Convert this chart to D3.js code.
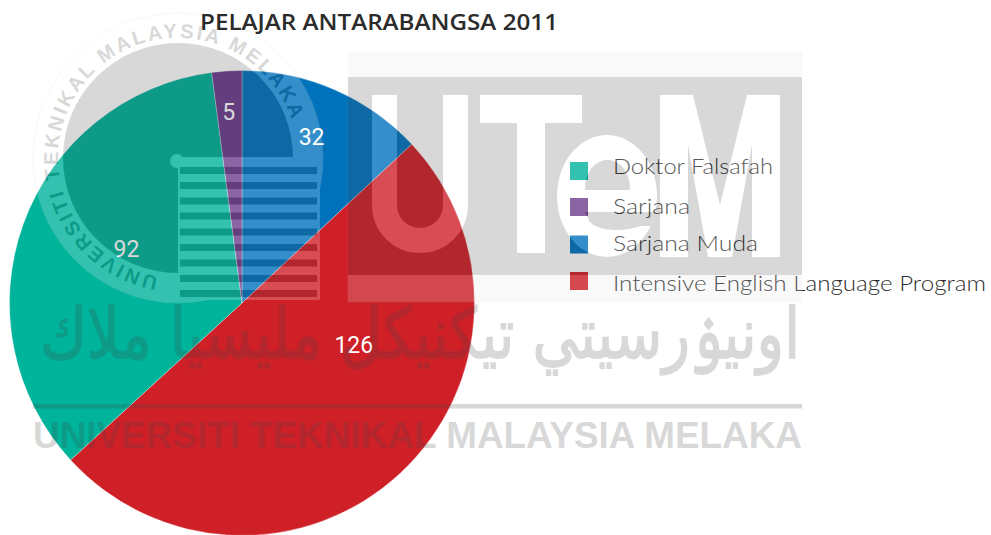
<!DOCTYPE html>
<html><head><meta charset="utf-8">
<script src="https://cdn.jsdelivr.net/npm/d3@7"></script>
<style>html,body{margin:0;padding:0;background:#fff;overflow:hidden}svg{display:block}</style>
</head><body><div id="c"></div>
<script>
const titleText = "PELAJAR ANTARABANGSA 2011";
const categories = ["Sarjana Muda","Intensive English Language Program","Doktor Falsafah","Sarjana"];
const values = [32,126,92,5];
// wedge sweeps as actually drawn in the picture, in degrees (they differ slightly from the printed values)
const sweeps = [46.9,180.6,125,7.5];
const colors = ["#0072bc","#cf2028","#00b39b","#6e3d8e"];
const legendOrder = ["Doktor Falsafah","Sarjana","Sarjana Muda","Intensive English Language Program"];
const legendWidths = [160,77,145,373];
const legendY = [162,198,235.5,272];
const legendBase = [174,214,251,291];
const labelPolar = [[22.6,181],[110,119],[295.4,128],[356,192]];
const stripeY = [167,182,197.5,212.5,228.5,244,259.5,275,290];
const sealText = "UNIVERSITI TEKNIKAL MALAYSIA MELAKA";
const footText = "UNIVERSITI TEKNIKAL MALAYSIA MELAKA";
const jawiText = "اونيۏرسيتي تيكنيكل مليسيا ملاك";

const W=991,H=535,cx=242,cy=303,R=232.5;
const svg=d3.select("#c").append("svg").attr("width",W).attr("height",H);
const color=d3.scaleOrdinal(categories,colors);

// pie
const pie=d3.pie().sort(null).value(d=>d.s);
const rows=categories.map((c,i)=>({c,v:values[i],s:sweeps[i]}));
const arc=d3.arc().innerRadius(0).outerRadius(R);
const gPie=svg.append("g").attr("transform",`translate(${cx},${cy})`);
gPie.selectAll("path").data(pie(rows)).join("path")
  .attr("d",arc).attr("fill",d=>color(d.data.c)).attr("stroke","#fff").attr("stroke-width",.3);

// value labels
const gV=svg.append("g").attr("transform",`translate(${cx},${cy})`);
values.forEach((v,i)=>{
  const [a,r]=labelPolar[i], t=a*Math.PI/180;
  gV.append("text").attr("x",r*Math.sin(t)).attr("y",-r*Math.cos(t)+9)
    .attr("text-anchor","middle").attr("font-family","Roboto").attr("font-size",23)
    .attr("fill","#fff").text(v);
});

// legend
const gL=svg.append("g");
legendOrder.forEach((name,i)=>{
  gL.append("rect").attr("x",570).attr("y",legendY[i]).attr("width",18).attr("height",18).attr("fill",color(name));
  gL.append("text").attr("x",613).attr("y",legendBase[i])
    .attr("font-family","Lato").attr("font-weight",300).attr("font-size",21.5).attr("fill","#2e2e2e")
    .attr("textLength",legendWidths[i]).attr("lengthAdjust","spacingAndGlyphs").text(name);
});

// watermark
const wm=svg.append("g").attr("opacity",.2);
const dark="#414141", light="#fff";
// seal
const sx=178,sy=158;
wm.append("circle").attr("cx",sx).attr("cy",sy).attr("r",145).attr("fill",light).attr("stroke","#ddd").attr("stroke-width",1);
wm.append("circle").attr("cx",sx).attr("cy",sy).attr("r",115).attr("fill",dark);
wm.append("rect").attr("x",178).attr("y",157).attr("width",142).attr("height",143).attr("fill",light);
wm.append("circle").attr("cx",177).attr("cy",161).attr("r",7).attr("fill",light);
wm.selectAll("rect.st").data(stripeY).join("rect").attr("class","st")
  .attr("x",180).attr("y",d=>d).attr("width",137).attr("height",7).attr("fill",dark);
const rad=d=>(d-90)*Math.PI/180;
const ring=d3.path(); ring.arc(sx,sy,120,rad(189.5),rad(189.5+359.9));
wm.append("defs").append("path").attr("id","ring").attr("d",ring.toString());
wm.append("text").attr("font-family","Liberation Sans").attr("font-weight",700).attr("font-size",20)
  .attr("letter-spacing",2.6).attr("fill",dark)
  .append("textPath").attr("href","#ring").text(sealText);
// UTeM block
wm.append("rect").attr("x",348).attr("y",52).attr("width",454).attr("height",250).attr("fill","#e6e6e6").attr("stroke","#ddd").attr("stroke-width",.5);
wm.append("rect").attr("x",348).attr("y",77).attr("width",454).attr("height",198).attr("fill",dark);
wm.append("path").attr("fill","none").attr("stroke",light).attr("stroke-width",25)
  .attr("d",d3.line()([[384.5,95],[384.5,205]])+"A35.5,35.5 0 0 0 455.5,205V95");
wm.append("path").attr("fill",light).attr("d","M480,95H582V123H545V253H517V123H480Z");
wm.append("ellipse").attr("cx",607).attr("cy",196).attr("rx",50).attr("ry",61).attr("fill",light);
wm.append("path").attr("fill",dark).attr("d","M585,190C585,150 630,150 630,190Z");
wm.append("path").attr("fill",dark).attr("d","M585,212H660V226H640C625,232 600,232 590,222Z");
wm.append("path").attr("fill",light).attr("d","M660,95H693L720,205L747,95H780V257H752V145L732,257H708L688,145V257H660Z");
// lower text
wm.append("text").attr("x",40).attr("y",358)
  .attr("font-family","DejaVu Sans").attr("font-size",70).attr("fill",dark).attr("stroke",dark).attr("stroke-width",1.5)
  .attr("textLength",760).attr("lengthAdjust","spacingAndGlyphs").text(jawiText);
wm.append("rect").attr("x",33).attr("y",404).attr("width",769).attr("height",4.5).attr("fill",dark);
wm.append("text").attr("x",33).attr("y",448).attr("font-family","Liberation Sans").attr("font-weight",700)
  .attr("font-size",36).attr("fill",dark).attr("textLength",769).attr("lengthAdjust","spacingAndGlyphs").text(footText);

// title
svg.append("text").attr("x",200).attr("y",30).attr("font-family","Open Sans").attr("font-weight",600)
  .attr("font-size",22).attr("fill","#2b2b2b").attr("textLength",358).attr("lengthAdjust","spacingAndGlyphs").text(titleText);
</script></body></html>
